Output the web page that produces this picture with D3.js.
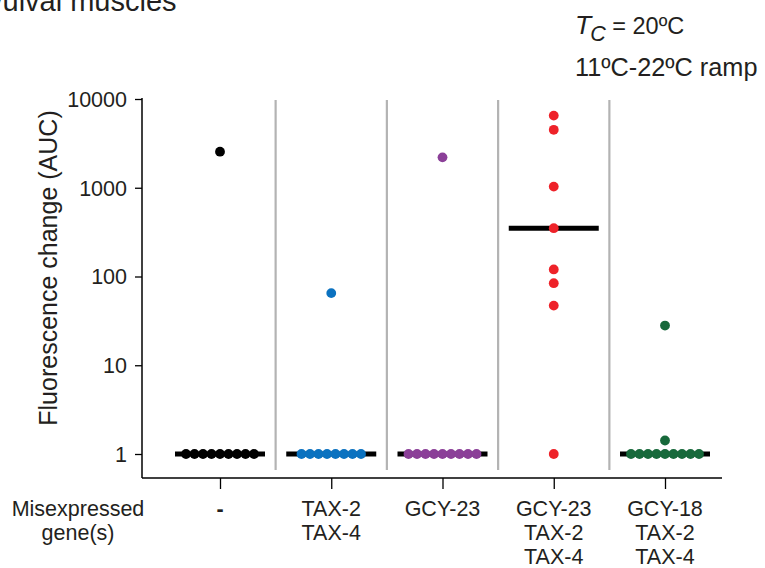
<!DOCTYPE html>
<html>
<head>
<meta charset="utf-8">
<script src="https://cdn.jsdelivr.net/npm/d3@7/dist/d3.min.js"></script>
<style>
  html, body { margin: 0; padding: 0; background: #fff; }
  svg { display: block; font-family: "Liberation Sans", Arial, Helvetica, sans-serif; }
</style>
</head>
<body>
<svg id="chart" width="765" height="568"></svg>
<script>
// Misexpressed gene combinations (one label line per gene)
const groups = [
  ["-"],
  ["TAX-2", "TAX-4"],
  ["GCY-23"],
  ["GCY-23", "TAX-2", "TAX-4"],
  ["GCY-18", "TAX-2", "TAX-4"]
];
const groupKeys = groups.map(g => g.join(" / "));
const colors = ["#000000", "#0b72c0", "#8b3f98", "#ee2229", "#17693b"];

// Fluorescence change (AUC) per animal, per group
const noneValues   = [2550, 1, 1, 1, 1, 1, 1, 1, 1, 1];
const tax24Values  = [65, 1, 1, 1, 1, 1, 1, 1, 1];
const gcy23Values  = [2200, 1, 1, 1, 1, 1, 1, 1, 1, 1];
const gcy23TaxValues = [6500, 4500, 1030, 350, 120, 84, 47, 1];
const gcy18TaxValues = [28, 1.42, 1, 1, 1, 1, 1, 1, 1, 1, 1];
const seriesValues = [noneValues, tax24Values, gcy23Values, gcy23TaxValues, gcy18TaxValues];

// Group medians
const medians = [1, 1, 1, 350, 1];

const yTicks = [1, 10, 100, 1000, 10000];

const svg = d3.select("#chart");

const x = d3.scalePoint().domain(groupKeys).range([220, 665]);
const y = d3.scaleLog().domain([1, 10000]).range([454, 99]);

const axisLeftX = 142, axisBottomY = 478, axisRightX = 722;
const dotR = 4.9, dotStep = 8.5, medianHalf = 45;

// Grey separators between groups
const step = x.step();
svg.append("g").selectAll("line")
  .data(groupKeys.slice(1))
  .join("line")
  .attr("x1", d => x(d) - step / 2)
  .attr("x2", d => x(d) - step / 2)
  .attr("y1", 100).attr("y2", 470)
  .attr("stroke", "#b3b3b3").attr("stroke-width", 2.2);

// Y axis
const yAxis = svg.append("g")
  .attr("transform", `translate(${axisLeftX},0)`)
  .call(d3.axisLeft(y).tickValues(yTicks).tickFormat(d3.format("d")).tickSize(7).tickSizeOuter(0));
yAxis.select(".domain").remove();
yAxis.append("line")
  .attr("x1", 0).attr("x2", 0).attr("y1", 98).attr("y2", axisBottomY)
  .attr("stroke", "#000").attr("stroke-width", 1.5);
yAxis.selectAll(".tick line").attr("stroke", "#000").attr("stroke-width", 1.3);
yAxis.selectAll(".tick text")
  .attr("x", -15)
  .attr("dy", "0.34em")
  .attr("fill", "#231f20")
  .style("font-size", "21.5px")
  .style("font-family", "'Liberation Sans', Arial, sans-serif");

// X axis line and ticks
svg.append("line")
  .attr("x1", axisLeftX).attr("x2", axisRightX)
  .attr("y1", axisBottomY).attr("y2", axisBottomY)
  .attr("stroke", "#000").attr("stroke-width", 1.5);
const xAxis = svg.append("g")
  .attr("transform", `translate(0,${axisBottomY})`)
  .call(d3.axisBottom(x).tickSize(11).tickSizeOuter(0).tickFormat(""));
xAxis.select(".domain").remove();
xAxis.selectAll(".tick line").attr("stroke", "#000").attr("stroke-width", 1.3);

// Multi-line group labels
const labelG = svg.append("g")
  .style("font-size", "21.5px")
  .attr("fill", "#231f20")
  .attr("text-anchor", "middle");
groups.forEach((lines, gi) => {
  const t = labelG.append("text").attr("x", x(groupKeys[gi])).attr("y", 516);
  lines.forEach((ln, li) => {
    t.append("tspan")
      .attr("x", x(groupKeys[gi]))
      .attr("dy", li === 0 ? 0 : 24)
      .style("font-weight", ln === "-" ? "bold" : null)
      .text(ln);
  });
});
labelG.append("text").attr("x", 78).attr("y", 516)
  .selectAll("tspan").data(["Misexpressed", "gene(s)"]).join("tspan")
  .attr("x", 78).attr("dy", (d, i) => i === 0 ? 0 : 24).text(d => d);

// Median bars
svg.append("g").selectAll("line")
  .data(medians)
  .join("line")
  .attr("x1", (d, i) => x(groupKeys[i]) - medianHalf)
  .attr("x2", (d, i) => x(groupKeys[i]) + medianHalf)
  .attr("y1", d => y(d)).attr("y2", d => y(d))
  .attr("stroke", "#000").attr("stroke-width", 5);

// Points: tied values are spread horizontally around the group centre
seriesValues.forEach((vals, gi) => {
  const counts = d3.rollup(vals, v => v.length, d => d);
  const seen = new Map();
  const pts = vals.map(v => {
    const n = counts.get(v);
    const k = seen.get(v) || 0;
    seen.set(v, k + 1);
    return { v, dx: (k - (n - 1) / 2) * dotStep };
  });
  svg.append("g").selectAll("circle")
    .data(pts)
    .join("circle")
    .attr("cx", d => x(groupKeys[gi]) + d.dx)
    .attr("cy", d => y(d.v))
    .attr("r", dotR)
    .attr("fill", colors[gi]);
});

// Y axis title
svg.append("text")
  .attr("transform", "translate(57,268) rotate(-90)")
  .attr("text-anchor", "middle")
  .attr("fill", "#231f20")
  .style("font-size", "25px")
  .text("Fluorescence change (AUC)");

// Panel heading (continues above)
svg.append("text")
  .attr("x", -12).attr("y", 11)
  .attr("fill", "#231f20")
  .style("font-size", "29px")
  .text("vulval muscles");

// Condition annotation
const cond = svg.append("text").attr("x", 575).attr("y", 34)
  .attr("fill", "#231f20").style("font-size", "23.5px");
cond.append("tspan").style("font-style", "italic").style("font-size", "26.5px").text("T");
cond.append("tspan").style("font-style", "italic").style("font-size", "21.5px").attr("dy", 7).attr("dx", -1).text("C");
cond.append("tspan").attr("dy", -7).text(" = 20ºC");
svg.append("text").attr("x", 575).attr("y", 76)
  .attr("fill", "#231f20").style("font-size", "25.3px")
  .text("11ºC-22ºC ramp");
</script>
</body>
</html>
